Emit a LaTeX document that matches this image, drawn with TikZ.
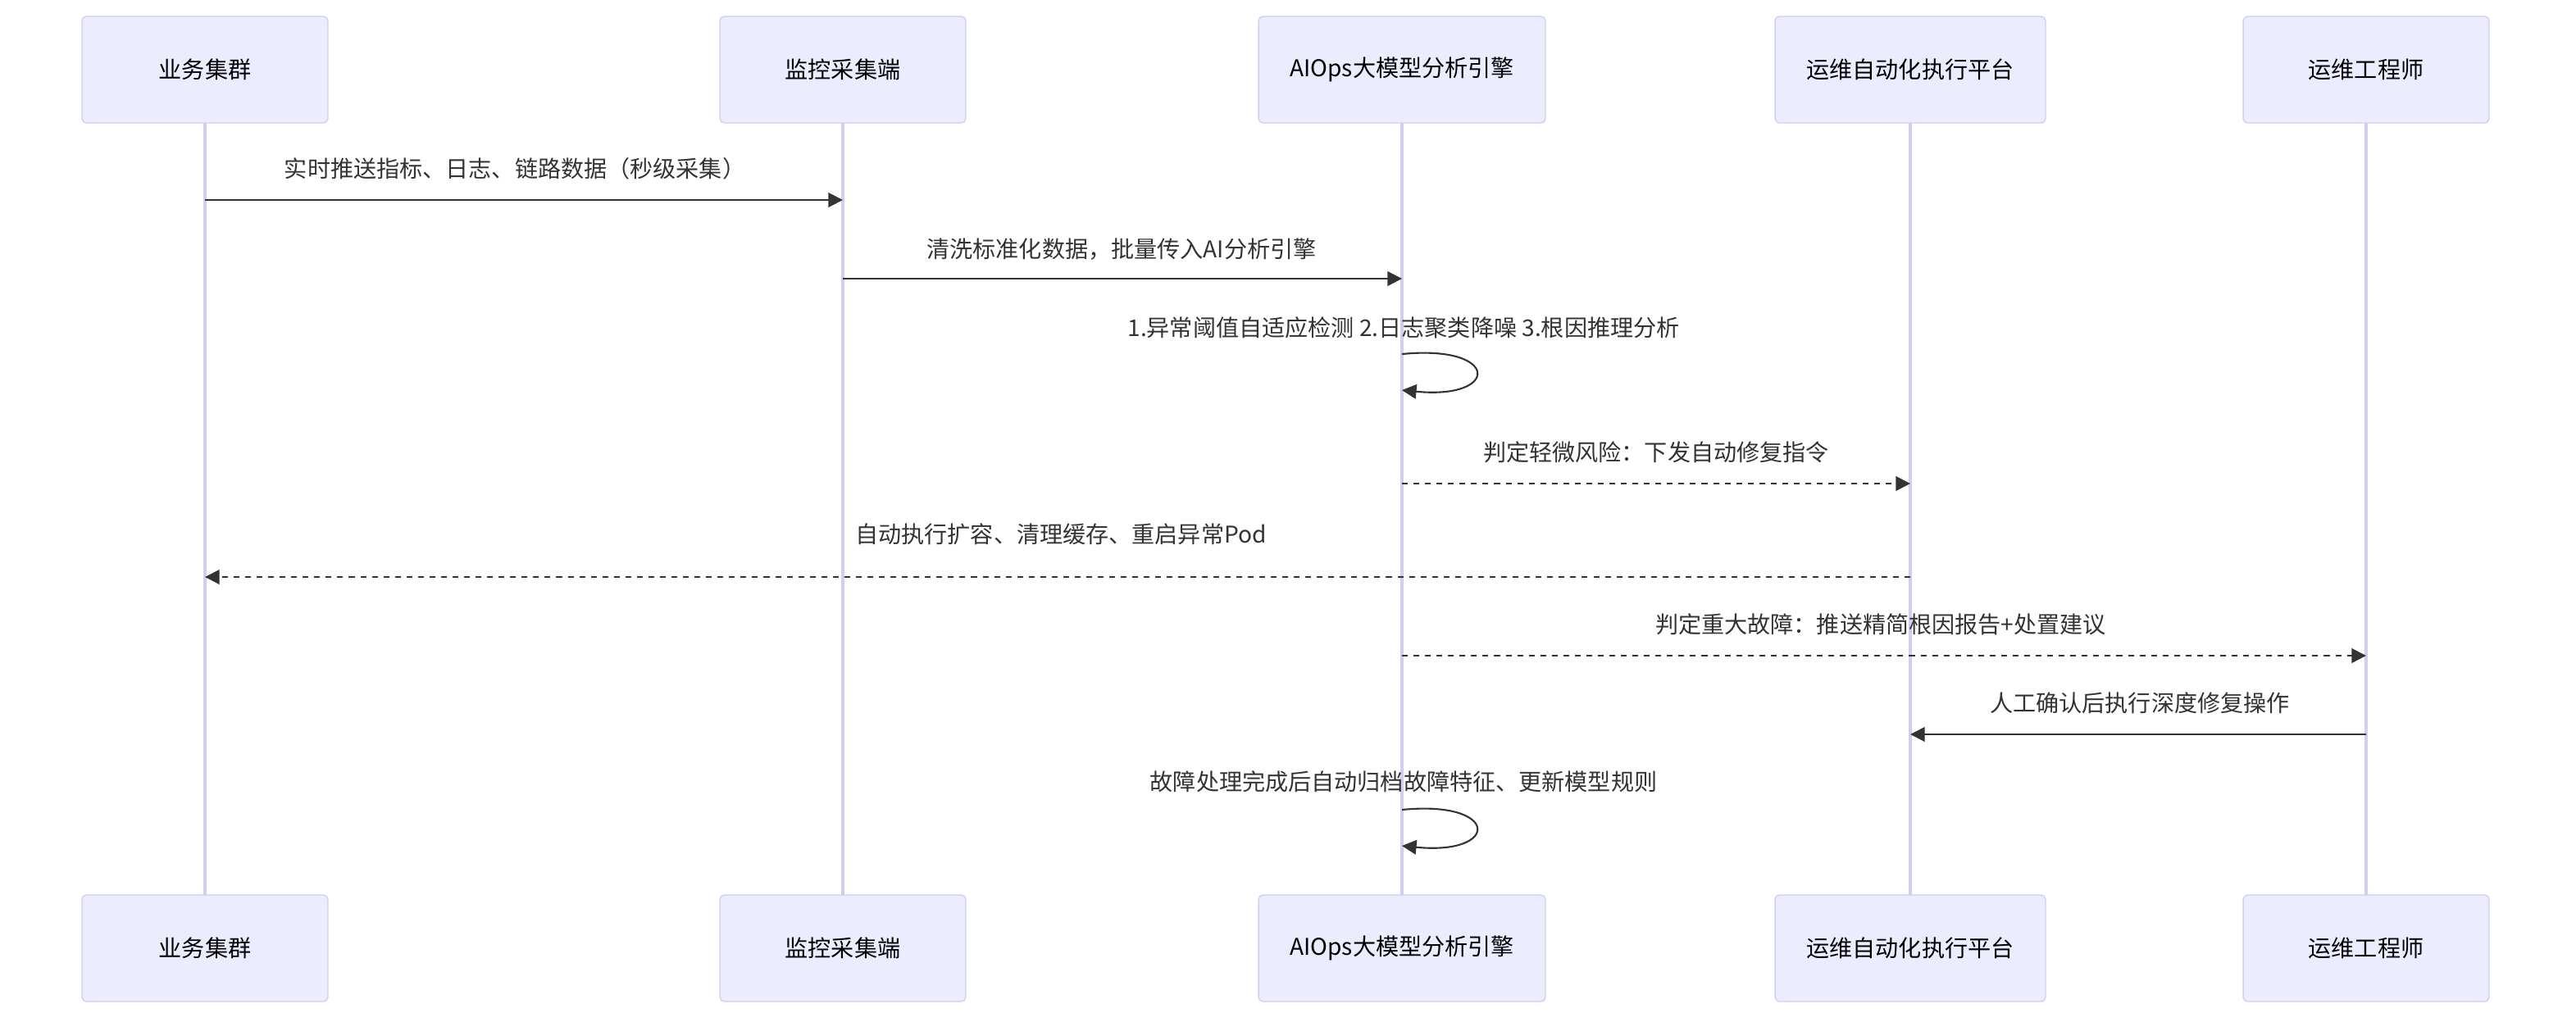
\documentclass[tikz,border=0pt]{standalone}
\usepackage{fontspec}
\setmainfont{Noto Sans CJK SC}
\usetikzlibrary{positioning}
\usetikzlibrary{arrows.meta}
\definecolor{actfill}{HTML}{ECECFF}
\definecolor{actline}{HTML}{D3CDEF}
\definecolor{msgline}{HTML}{333333}
\tikzset{
  actor/.style={draw=actline, fill=actfill, rounded corners=1.5pt, minimum width=#1, minimum height=1.3cm, font=\fontsize{8}{10}\selectfont, text=black},
  life/.style={draw=actline, line width=0.9pt},
  msg/.style={-{Triangle[length=5pt,width=5pt]}, draw=msgline, line width=0.6pt},
  ret/.style={msg, dash pattern=on 2pt off 2pt},
  lbl/.style={font=\fontsize{8}{10}\selectfont, text=msgline}
}
\begin{document}
\begin{tikzpicture}[x=0.02cm,y=-0.02cm]
		\useasboundingbox[fill=white] (0,0) rectangle (1571,623);
		% lifelines
		\foreach \cx in {125,514,855,1165,1443}
			\draw[life] (\cx,75) -- (\cx,546);
		% top participants
		\node (a1) [actor=3cm] at (125,42.5) {业务集群};
		\node (a2) [actor=3cm] at (514,42.5) {监控采集端};
		\node (a3) [actor=3.5cm] at (855,42.5) {AIOps大模型分析引擎};
		\node (a4) [actor=3.3cm] at (1165,42.5) {运维自动化执行平台};
		\node (a5) [actor=3cm] at (1443,42.5) {运维工程师};
		% bottom participants
		\node (b1) [actor=3cm] at (125,578.5) {业务集群};
		\node (b2) [actor=3cm] at (514,578.5) {监控采集端};
		\node (b3) [actor=3.5cm] at (855,578.5) {AIOps大模型分析引擎};
		\node (b4) [actor=3.3cm] at (1165,578.5) {运维自动化执行平台};
		\node (b5) [actor=3cm] at (1443,578.5) {运维工程师};
		% message end points
		\coordinate (m1s) at (125,122); \coordinate (m1e) at (514,122);
		\coordinate (m2s) at (514,170); \coordinate (m2e) at (855,170);
		\coordinate (m3s) at (855,216); \coordinate (m3e) at (855,238);
		\coordinate (m4s) at (855,295); \coordinate (m4e) at (1165,295);
		\coordinate (m5s) at (1165,352); \coordinate (m5e) at (125,352);
		\coordinate (m6s) at (855,400); \coordinate (m6e) at (1443,400);
		\coordinate (m7s) at (1443,448); \coordinate (m7e) at (1165,448);
		\coordinate (m8s) at (855,494); \coordinate (m8e) at (855,516);
		% messages
		\draw[msg] (m1s) -- (m1e);
		\node[lbl] (t1) at (314,103) {实时推送指标、日志、链路数据（秒级采集）};
		\draw[msg] (m2s) -- (m2e);
		\node[lbl] (t2) at (684,152) {清洗标准化数据，批量传入AI分析引擎};
		\draw[msg] (m3s) .. controls (915,210) and (915,244) .. (m3e);
		\node[lbl] (t3) at (856,200) {1.异常阈值自适应检测 2.日志聚类降噪 3.根因推理分析};
		\draw[ret] (m4s) -- (m4e);
		\node[lbl] (t4) at (1010,276) {判定轻微风险：下发自动修复指令};
		\draw[ret] (m5s) -- (m5e);
		\node[lbl] (t5) at (647,326) {自动执行扩容、清理缓存、重启异常Pod};
		\draw[ret] (m6s) -- (m6e);
		\node[lbl] (t6) at (1147,381) {判定重大故障：推送精简根因报告+处置建议};
		\draw[msg] (m7s) -- (m7e);
		\node[lbl] (t7) at (1305,429) {人工确认后执行深度修复操作};
		\draw[msg] (m8s) .. controls (915,488) and (915,522) .. (m8e);
		\node[lbl] (t8) at (856,477) {故障处理完成后自动归档故障特征、更新模型规则};
\end{tikzpicture}
\end{document}
